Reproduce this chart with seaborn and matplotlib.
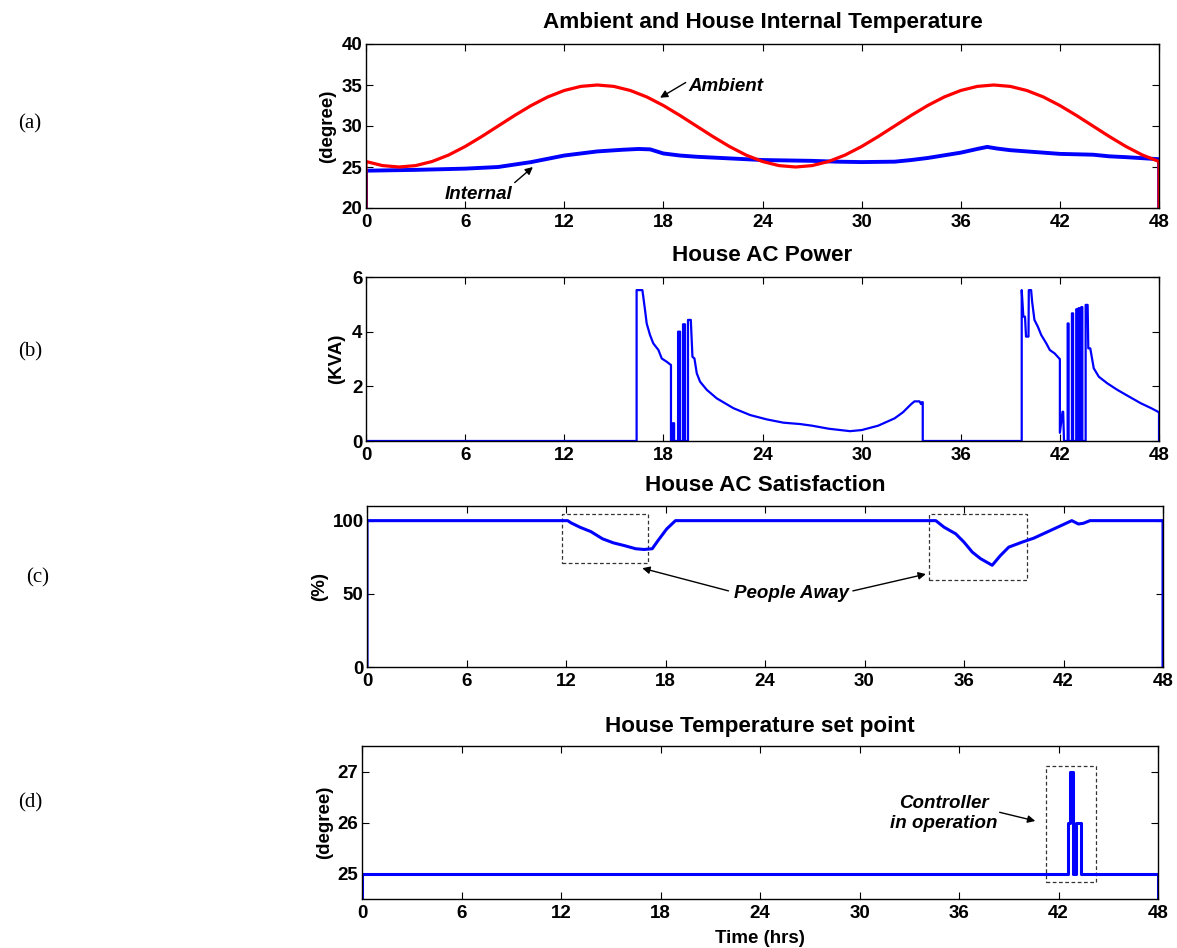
import numpy as np
import pandas as pd
import matplotlib
matplotlib.use("Agg")
import matplotlib.pyplot as plt
from matplotlib.patches import Rectangle
import seaborn as sns

# ---------------- data ----------------
hour_ticks = [0, 6, 12, 18, 24, 30, 36, 42, 48]

# (a) ambient temperature, hourly readings (with end drops)
amb_t = [0] + list(range(49)) + [48]
amb_v = [0, 25.67, 25.17, 25.0, 25.17, 25.67, 26.46, 27.5, 28.71, 30.0, 31.29, 32.5,
         33.54, 34.33, 34.83, 35.0, 34.83, 34.33, 33.54, 32.5, 31.29, 30.0, 28.71, 27.5,
         26.46, 25.67, 25.17, 25.0, 25.17, 25.67, 26.46, 27.5, 28.71, 30.0, 31.29, 32.5,
         33.54, 34.33, 34.83, 35.0, 34.83, 34.33, 33.54, 32.5, 31.29, 30.0, 28.71, 27.5,
         26.46, 25.67, 0]

# (a) house internal temperature
int_t = [0, 0, 3, 6, 8, 9, 10, 12, 14, 15.5, 16.5, 17.2, 18, 19, 20, 22, 24, 27, 28.5, 30,
         32, 33, 34, 36, 37, 37.6, 38.2, 39, 40, 42, 44, 45, 46, 48, 48]
int_v = [0, 24.55, 24.65, 24.8, 25.0, 25.3, 25.6, 26.4, 26.9, 27.1, 27.2, 27.15, 26.65,
         26.4, 26.25, 26.05, 25.85, 25.75, 25.65, 25.6, 25.65, 25.85, 26.1, 26.75, 27.2,
         27.45, 27.25, 27.05, 26.9, 26.6, 26.5, 26.3, 26.2, 25.95, 0]

# (b) house AC power (KVA)
pow_t = [0, 16.38, 16.38, 16.73, 16.89, 16.99, 17.19, 17.39, 17.7, 17.9, 18.2, 18.46,
         18.46, 18.57, 18.57, 18.65, 18.65, 18.89, 18.89, 19.01, 19.01, 19.19, 19.19,
         19.31, 19.31, 19.49, 19.49, 19.66, 19.76, 19.88, 20.02, 20.22, 20.63, 21.23,
         22.24, 23.25, 24.26, 25.27, 26.28, 27.0, 28.0, 29.3, 30.0, 31.0, 32.0, 32.5,
         33.0, 33.2, 33.5, 33.6, 33.65, 33.7, 33.7,
         39.69, 39.69, 39.79, 39.89, 39.95, 40.1, 40.12, 40.26, 40.32, 40.46, 40.67,
         40.87, 41.18, 41.39, 41.69, 41.96, 42.0, 42.0, 42.16, 42.2, 42.25,
         42.47, 42.47, 42.53, 42.53, 42.73, 42.73, 42.8, 42.8, 42.99, 42.99, 43.06, 43.06,
         43.13, 43.13, 43.2, 43.2, 43.3, 43.3, 43.36, 43.36, 43.56, 43.56, 43.68, 43.72,
         43.84, 44.05, 44.36, 44.87, 45.48, 46.2, 46.9, 47.53, 47.94, 48.0, 48.0]
pow_v = [0, 0, 5.52, 5.52, 4.79, 4.3, 3.88, 3.57, 3.33, 3.02, 2.9, 2.78,
         0, 0, 0.65, 0.65, 0, 0, 4.0, 4.0, 0, 0, 4.27,
         4.27, 0, 0, 4.43, 4.43, 3.08, 3.02, 2.48, 2.17, 1.87, 1.56,
         1.2, 0.95, 0.79, 0.67, 0.62, 0.56, 0.45, 0.36, 0.4, 0.56, 0.83, 1.05,
         1.35, 1.45, 1.45, 1.35, 1.42, 1.42, 0,
         0, 5.52, 4.55, 4.55, 3.82, 3.82, 5.52, 5.52, 5.1, 4.43, 4.18,
         3.88, 3.57, 3.33, 3.2, 3.02, 3.0, 0.3, 1.07, 1.07, 0,
         0, 4.3, 4.3, 0, 0, 4.67, 4.67, 0, 0, 4.82, 4.82, 0,
         0, 4.86, 4.86, 0, 0, 4.9, 4.9, 0, 0, 4.98, 4.98, 3.39,
         3.39, 2.66, 2.35, 2.11, 1.87, 1.62, 1.38, 1.2, 1.07, 1.05, 0]

# (c) house AC satisfaction (%)
sat_t = [0, 0, 12.1, 12.3, 12.84, 13.5, 14.2, 14.86, 15.5, 16.2, 16.7, 17.2, 17.55, 18.07,
         18.6, 34.3, 34.8, 35.5, 36.0, 36.5, 37.0, 37.7, 38.2, 38.7, 39.5, 40.2, 41.2,
         42.06, 42.5, 42.9, 43.2, 43.6, 48, 48]
sat_v = [0, 100, 100, 98.5, 95.5, 92.5, 87.6, 84.8, 83.0, 80.8, 80.3, 80.8, 86.4, 94.3,
         100, 100, 95.5, 91.0, 85.3, 78.5, 74.0, 69.5, 76.2, 81.9, 85.3, 88.0, 93.2,
         97.7, 100, 97.7, 98.2, 100, 100, 0]

# (d) house temperature set point
sp_t = [0, 0, 42.57, 42.57, 42.67, 42.67, 42.88, 42.88, 43.05, 43.05, 43.33, 43.33, 48, 48]
sp_v = [24.0, 25, 25, 26, 26, 27, 27, 25, 25, 26, 26, 25, 25, 24.0]

# annotation regions (x0, y0, x1, y1) in data units
away_box1 = (11.76, 71.3, 16.96, 104.5)
away_box2 = (33.9, 59.3, 39.8, 104.5)
ctrl_box = (41.25, 24.83, 44.25, 27.11)

titles = ["Ambient and House Internal Temperature", "House AC Power",
          "House AC Satisfaction", "House Temperature set point"]
ylabels = ["(degree)", "(KVA)", "(%)", "(degree)"]
panel_tags = ["(a)", "(b)", "(c)", "(d)"]

# ---------------- style ----------------
sns.set_style("ticks")
plt.rcParams['font.family'] = ['Liberation Sans', 'DejaVu Sans']
plt.rcParams['text.color'] = 'black'
plt.rcParams['axes.labelcolor'] = 'black'
plt.rcParams['xtick.color'] = 'black'
plt.rcParams['ytick.color'] = 'black'
plt.rcParams['axes.edgecolor'] = 'black'

W, H = 1177, 948
fig = plt.figure(figsize=(W / 100, H / 100), dpi=100)


def px_axes(l, t, r, b):
    return fig.add_axes([l / W, 1 - b / H, (r - l) / W, (b - t) / H])


axA = px_axes(366, 44, 1159, 208)
axB = px_axes(366, 277, 1159, 441)
axC = px_axes(367, 506, 1163, 667)
axD = px_axes(362, 746, 1158, 899)

BLUE = (0, 0, 1)
RED = (1, 0, 0)


def line(ax, x, y, color, lw):
    sns.lineplot(x=np.asarray(x, float), y=np.asarray(y, float), ax=ax, sort=False,
                 estimator=None, color=color, linewidth=lw, legend=False)


line(axA, int_t, int_v, BLUE, 2.8)
line(axA, amb_t, amb_v, RED, 2.3)
line(axB, pow_t, pow_v, BLUE, 1.6)
line(axC, sat_t, sat_v, BLUE, 2.2)
line(axD, sp_t, sp_v, BLUE, 2.2)


def style(ax, ylim, yticks, title, ylabel, lx, pad):
    ax.set_xlim(0, 48)
    ax.set_xticks(hour_ticks)
    ax.set_ylim(*ylim)
    ax.set_yticks(yticks)
    ax.tick_params(direction='in', top=True, right=True, length=5, width=0.8,
                   labelsize=13.5, colors='black')
    ax.tick_params(axis='x', pad=4)
    ax.tick_params(axis='y', pad=2.5)
    for lab in ax.get_xticklabels() + ax.get_yticklabels():
        lab.set_fontweight('bold')
    for s in ax.spines.values():
        s.set_visible(True)
        s.set_linewidth(1.0)
        s.set_color('black')
    ax.set_title(title, fontsize=16.2, fontweight='bold', pad=pad, color='black')
    ax.set_ylabel(ylabel, fontsize=13.5, fontweight='bold', color='black')
    ax.yaxis.set_label_coords(lx, 0.5)
    ax.set_xlabel('')
    ax.grid(False)


style(axA, (20, 40), [20, 25, 30, 35, 40], titles[0], ylabels[0], -0.038, 11.5)
style(axB, (0, 6), [0, 2, 4, 6], titles[1], ylabels[1], -0.026, 11.5)
style(axC, (0, 110), [0, 50, 100], titles[2], ylabels[2], -0.049, 11)
style(axD, (24.5, 27.5), [25, 26, 27], titles[3], ylabels[3], -0.036, 10)
axD.set_xlabel("Time (hrs)", fontsize=13.5, fontweight='bold', labelpad=6, color='black')

ann_font = dict(fontsize=13.5, fontweight='bold', fontstyle='italic', color='black')
arrow = dict(arrowstyle='-|>', lw=1.0, color='black', mutation_scale=11, shrinkA=0, shrinkB=0)

# (a) annotations
axA.text(19.5, 34.8, "Ambient", ha='left', va='center', **ann_font)
axA.annotate('', xy=(17.8, 33.45), xytext=(19.35, 35.3), arrowprops=arrow)
axA.text(6.8, 21.7, "Internal", ha='center', va='center', **ann_font)
axA.annotate('', xy=(10.1, 25.0), xytext=(9.0, 23.1), arrowprops=arrow)

# (c) annotations
for (x0, y0, x1, y1) in (away_box1, away_box2):
    axC.add_patch(Rectangle((x0, y0), x1 - x0, y1 - y0, fill=False, ls=(0, (3, 2)),
                            lw=0.9, ec='#333333'))
axC.text(25.6, 50, "People Away", ha='center', va='center', **ann_font)
axC.annotate('', xy=(16.6, 67.5), xytext=(21.8, 52), arrowprops=arrow)
axC.annotate('', xy=(33.7, 63.5), xytext=(29.3, 52), arrowprops=arrow)

# (d) annotations
x0, y0, x1, y1 = ctrl_box
axD.add_patch(Rectangle((x0, y0), x1 - x0, y1 - y0, fill=False, ls=(0, (3, 2)),
                        lw=0.9, ec='#333333'))
axD.text(35.1, 26.17, "Controller\nin operation", ha='center', va='center',
         linespacing=1.25, **ann_font)
axD.annotate('', xy=(40.6, 26.03), xytext=(38.45, 26.2), arrowprops=arrow)

# panel tags
for tag, (px, py) in zip(panel_tags, [(30, 124), (30, 352), (38, 578), (30, 803)]):
    fig.text(px / W, 1 - py / H, tag, fontsize=15, family=['Liberation Serif', 'DejaVu Serif'],
             ha='center', va='center', color='black')

fig.savefig("out.png", dpi=100)
